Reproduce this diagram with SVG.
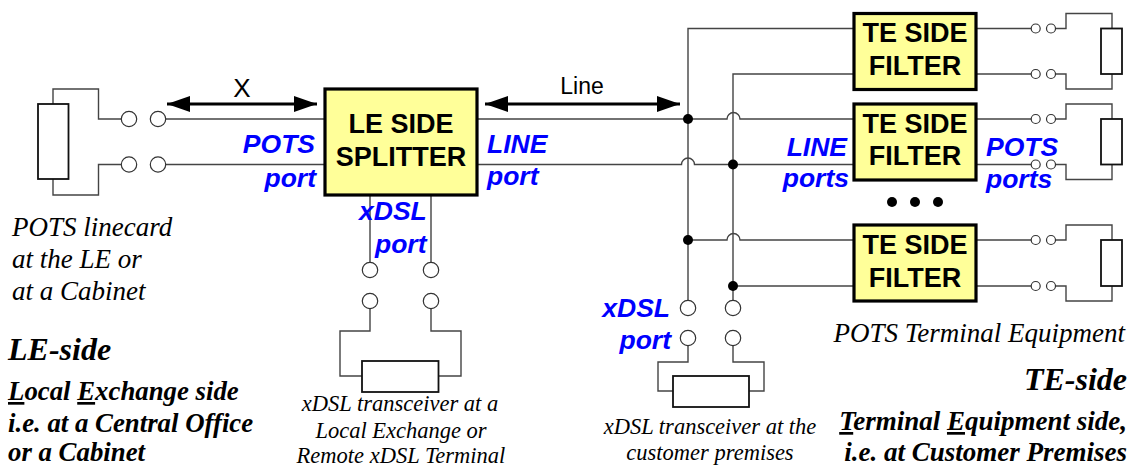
<svg xmlns="http://www.w3.org/2000/svg" width="1129" height="466" viewBox="0 0 1129 466">
<style>
.w{fill:none;stroke:#444;stroke-width:1.4}
.box{fill:#ffff99;stroke:#000;stroke-width:3.2}
.r{fill:#fff;stroke:#111;stroke-width:1.8}
.c{fill:#fff;stroke:#333;stroke-width:1.2}
.j{fill:#000}
.a{fill:none;stroke:#000;stroke-width:3.2;marker-start:url(#as);marker-end:url(#ae)}
text{font-family:"Liberation Sans",Arial,sans-serif}
.t{font-size:27px;font-weight:bold;text-anchor:middle;fill:#000}
.b{font-size:26.500px;font-weight:bold;font-style:italic;fill:#0000ff}
.e{text-anchor:end}
.s{font-family:"Liberation Serif","Times New Roman",serif;font-style:italic;fill:#000}
.m{text-anchor:middle}
.s1{font-size:27px}
.s2{font-size:22.500px}
.h{font-weight:bold;font-size:32px}
.h2{font-weight:bold;font-size:27px}
.h3{font-weight:bold;font-size:26.800px}
.u{text-decoration:underline}
</style>
<defs>
<marker id="ae" markerUnits="userSpaceOnUse" markerWidth="24" markerHeight="18" refX="23" refY="8" orient="auto"><path d="M0 0L23 8L0 16Z" fill="#000"/></marker>
<marker id="as" markerUnits="userSpaceOnUse" markerWidth="24" markerHeight="18" refX="0" refY="8" orient="auto"><path d="M23 0L0 8L23 16Z" fill="#000"/></marker>
</defs>
<g id="connectors">
<path class="w" d="M53 104V89H98.500V119H121M166 119H325"/>
<path class="w" d="M53 179V195H98.500V164.500H121M166 164.500H325"/>
<path class="w" d="M477 119H727A6.500 6.500 0 0 1 740 119H854"/>
<path class="w" d="M477 164.500H681.500A6.500 6.500 0 0 1 694.500 164.500H854"/>
<path class="w" d="M854 28.500H688V300"/>
<path class="w" d="M854 74H733V300"/>
<path class="w" d="M688 240H727A6.500 6.500 0 0 1 740 240H854"/>
<path class="w" d="M733 286H854"/>
<path class="w" d="M370 195V262M431 195V262"/>
<path class="w" d="M370 309V331H340V376H362M431 309V331H461V376H438"/>
<path class="w" d="M688 346V362H658V391H673M733 346V362H764V391H749"/>
<path class="w" d="M976 28.500H1031M976 74H1031M1055.500 28.500H1066V13.500H1112V28.500M1055.500 74H1066V89H1112V74"/>
<path class="w" d="M976 119H1031M976 164.500H1031M1055.500 119H1066V104H1112V119M1055.500 164.500H1066V179.500H1112V164.500"/>
<path class="w" d="M976 240H1031M976 286H1031M1055.500 240H1066V225H1112V240M1055.500 286H1066V301H1112V286"/>
<path class="a" d="M167 104H317"/>
<path class="a" d="M485 104H680"/>
<circle class="j" cx="688" cy="119" r="5"/>
<circle class="j" cx="733" cy="164.500" r="5"/>
<circle class="j" cx="688" cy="240" r="5"/>
<circle class="j" cx="733" cy="286" r="5"/>
</g>
<g id="pots-linecard">
<rect class="r" x="38" y="104" width="30.500" height="75"/>
<circle class="c" cx="129" cy="119" r="7.700"/><circle class="c" cx="158" cy="119" r="7.700"/>
<circle class="c" cx="129" cy="164.500" r="7.700"/><circle class="c" cx="158" cy="164.500" r="7.700"/>
<text class="s s1" x="12" y="236">POTS linecard</text>
<text class="s s1" x="12" y="268">at the LE or</text>
<text class="s s1" x="12" y="300">at a Cabinet</text>
</g>
<g id="le-splitter">
<rect class="box" x="325" y="89" width="152" height="106"/>
<text class="t" x="401" y="133">LE SIDE</text>
<text class="t" x="401" y="166">SPLITTER</text>
</g>
<g id="le-xdsl">
<circle class="c" cx="370" cy="270" r="7.700"/><circle class="c" cx="431" cy="270" r="7.700"/>
<circle class="c" cx="370" cy="301" r="7.700"/><circle class="c" cx="431" cy="301" r="7.700"/>
<rect class="r" x="362" y="361" width="76.500" height="31"/>
<text class="s s2 m" x="400" y="411">xDSL transceiver at a</text>
<text class="s s2 m" x="401" y="438">Local Exchange or</text>
<text class="s s2 m" x="401" y="463">Remote xDSL Terminal</text>
</g>
<g id="te-filter-1">
<rect class="box" x="854" y="13.500" width="122" height="76"/>
<text class="t" x="915" y="42">TE SIDE</text>
<text class="t" x="915" y="75">FILTER</text>
<circle class="c" cx="1035.700" cy="28.500" r="4.500"/><circle class="c" cx="1051" cy="28.500" r="4.500"/>
<circle class="c" cx="1035.700" cy="74" r="4.500"/><circle class="c" cx="1051" cy="74" r="4.500"/>
<rect class="r" x="1101" y="28.500" width="21" height="45.500"/>
</g>
<g id="te-filter-2">
<rect class="box" x="854" y="104" width="122" height="76"/>
<text class="t" x="915" y="133">TE SIDE</text>
<text class="t" x="915" y="165">FILTER</text>
<circle class="c" cx="1035.700" cy="119" r="4.500"/><circle class="c" cx="1051" cy="119" r="4.500"/>
<circle class="c" cx="1035.700" cy="164.500" r="4.500"/><circle class="c" cx="1051" cy="164.500" r="4.500"/>
<rect class="r" x="1101" y="119" width="21" height="45.500"/>
</g>
<g id="ellipsis">
<circle class="j" cx="892" cy="202" r="5"/><circle class="j" cx="915" cy="202" r="5"/><circle class="j" cx="938" cy="202" r="5"/>
</g>
<g id="te-filter-3">
<rect class="box" x="854" y="225" width="122" height="76"/>
<text class="t" x="915" y="254">TE SIDE</text>
<text class="t" x="915" y="287">FILTER</text>
<circle class="c" cx="1035.700" cy="240" r="4.500"/><circle class="c" cx="1051" cy="240" r="4.500"/>
<circle class="c" cx="1035.700" cy="286" r="4.500"/><circle class="c" cx="1051" cy="286" r="4.500"/>
<rect class="r" x="1101" y="240" width="21" height="46"/>
</g>
<g id="te-xdsl">
<circle class="c" cx="688" cy="308" r="7.700"/><circle class="c" cx="733" cy="308" r="7.700"/>
<circle class="c" cx="688" cy="338" r="7.700"/><circle class="c" cx="733" cy="338" r="7.700"/>
<rect class="r" x="673" y="376" width="76" height="31"/>
<text class="s s2 m" x="710" y="434">xDSL transceiver at the</text>
<text class="s s2 m" x="710" y="460">customer premises</text>
</g>
<g id="labels">
<text x="242" y="97" font-size="26" text-anchor="middle">X</text>
<text x="582" y="94" font-size="23" text-anchor="middle">Line</text>
<text class="b e" x="315" y="153">POTS</text>
<text class="b e" x="316" y="187">port</text>
<text class="b" x="487" y="153">LINE</text>
<text class="b" x="487" y="185">port</text>
<text class="b" x="359" y="220">xDSL</text>
<text class="b" x="375" y="253">port</text>
<text class="b e" x="847" y="156">LINE</text>
<text class="b e" x="849" y="187">ports</text>
<text class="b" x="986" y="156">POTS</text>
<text class="b" x="986" y="188">ports</text>
<text class="b e" x="670" y="317">xDSL</text>
<text class="b e" x="671" y="349">port</text>
<text class="s s1 e" x="1125" y="342">POTS Terminal Equipment</text>
<text class="s h" x="8" y="360">LE-side</text>
<text class="s h3" x="8" y="400"><tspan class="u">L</tspan>ocal <tspan class="u">E</tspan>xchange side</text>
<text class="s h3" x="8" y="432">i.e. at a Central Office</text>
<text class="s h3" x="8" y="461">or a Cabinet</text>
<text class="s h e" x="1127" y="390">TE-side</text>
<text class="s h2 e" x="1127" y="430"><tspan class="u">T</tspan>erminal <tspan class="u">E</tspan>quipment side,</text>
<text class="s h2 e" x="1127" y="461">i.e. at Customer Premises</text>
</g>
</svg>
